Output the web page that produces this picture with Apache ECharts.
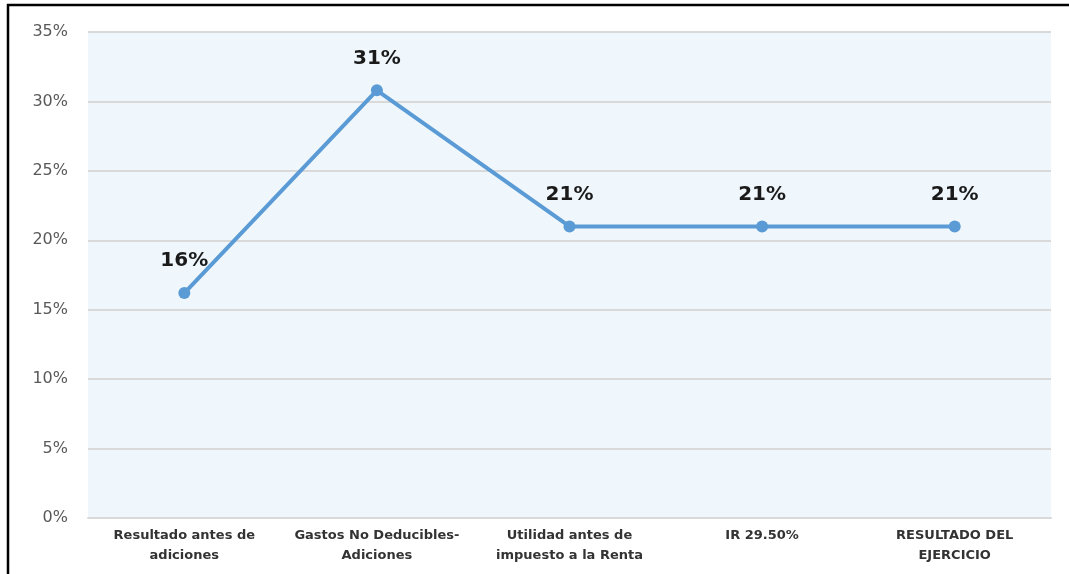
<!DOCTYPE html>
<html>
<head>
<meta charset="utf-8">
<script src="https://cdn.jsdelivr.net/npm/echarts@6/dist/echarts.min.js"></script>
<style>
html,body{margin:0;padding:0;background:#fff;}
#c{width:1069px;height:574px;}
</style>
</head>
<body>
<div id="c"></div>
<script>
const categories = ['Resultado antes de\nadiciones', 'Gastos No Deducibles-\nAdiciones', 'Utilidad antes de\nimpuesto a la Renta', 'IR 29.50%', 'RESULTADO DEL\nEJERCICIO'];
const values = [16.2, 30.8, 21.0, 21.0, 21.0];
const yTicks = [0, 5, 10, 15, 20, 25, 30, 35];

const chart = echarts.init(document.getElementById('c'), null, {renderer: 'canvas'});
chart.setOption({
  animation: false,
  backgroundColor: '#ffffff',
  graphic: [{
    type: 'polyline',
    shape: {points: [[8, 574], [8, 5], [1069, 5]]},
    style: {stroke: '#000', lineWidth: 2.5, fill: null},
    silent: true
  }],
  grid: {
    left: 88, right: 18, top: 32, bottom: 56,
    show: true, backgroundColor: '#eff7fc', borderWidth: 0
  },
  xAxis: {
    type: 'category',
    data: categories,
    boundaryGap: true,
    axisLine: {show: true, lineStyle: {color: '#d9d9d9', width: 2}},
    axisTick: {show: false},
    axisLabel: {
      interval: 0, color: '#333', fontFamily: 'DejaVu Sans', fontWeight: 'bold',
      fontSize: 13, lineHeight: 20, margin: 8
    }
  },
  yAxis: {
    type: 'value',
    min: yTicks[0], max: yTicks[yTicks.length - 1], interval: 5,
    axisLine: {show: false},
    axisTick: {show: false},
    splitLine: {lineStyle: {color: '#d9d9d9', width: 2}},
    axisLabel: {
      formatter: v => v + '%', color: '#595959', fontFamily: 'DejaVu Sans',
      fontSize: 16, margin: 20
    }
  },
  series: [{
    type: 'line',
    data: values,
    symbol: 'circle',
    symbolSize: 12,
    lineStyle: {color: '#5b9bd5', width: 4},
    itemStyle: {color: '#5b9bd5'},
    label: {
      show: true, position: 'top', distance: 16,
      formatter: p => Math.round(p.value) + '%',
      color: '#1a1a1a', fontFamily: 'DejaVu Sans', fontWeight: 'bold', fontSize: 20
    }
  }]
});
</script>
</body>
</html>
